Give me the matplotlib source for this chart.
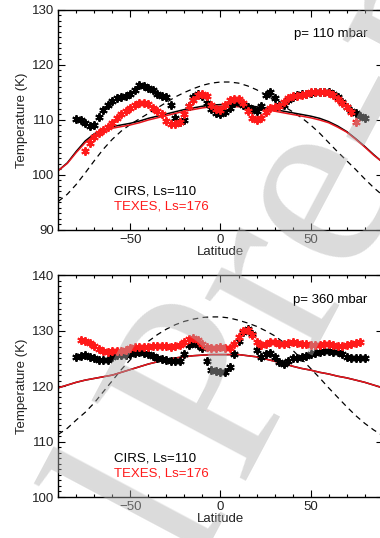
import numpy as np
import matplotlib
matplotlib.use("Agg")
import matplotlib.pyplot as plt
from matplotlib.ticker import MultipleLocator

plt.rcParams["font.family"] = ["Liberation Sans", "DejaVu Sans"]

# ---------------- data ----------------
# model curves (lat step 5)
model_lat = [-90, -85, -80, -75, -70, -65, -60, -55, -50, -45, -40, -35, -30, -25, -20, -15, -10, -5, 0,
             5, 10, 15, 20, 25, 30, 35, 40, 45, 50, 55, 60, 65, 70, 75, 80, 85, 90]

# p = 110 mbar
model110_cirs = [100.8, 102.2, 104.3, 106.2, 107.5, 108.3, 108.8, 109.1, 109.4, 109.8, 110.3, 110.7, 111.1,
                 111.5, 111.9, 112.2, 112.5, 112.7, 112.8, 112.8, 112.7, 112.6, 112.4, 112.2, 111.9, 111.6,
                 111.3, 111.0, 110.7, 110.3, 109.7, 108.9, 107.9, 106.6, 105.2, 103.7, 102.3]
model110_texes = [100.8, 102.1, 104.1, 105.9, 107.2, 108.0, 108.5, 108.8, 109.1, 109.5, 110.0, 110.4, 110.8,
                  111.2, 111.6, 111.9, 112.2, 112.4, 112.5, 112.5, 112.4, 112.3, 112.1, 111.9, 111.6, 111.3,
                  111.0, 110.7, 110.4, 110.0, 109.5, 108.7, 107.8, 106.5, 105.1, 103.6, 102.3]
dashed110 = [95.2, 96.5, 98.3, 100.4, 102.6, 104.7, 106.5, 108.0, 109.2, 110.2, 111.2, 112.2, 113.2, 114.2,
             115.0, 115.7, 116.3, 116.7, 116.9, 116.9, 116.7, 116.2, 115.5, 114.6, 113.6, 112.5, 111.5,
             110.4, 109.1, 107.6, 105.9, 104.2, 102.6, 101.0, 99.3, 97.7, 96.3]

# p = 360 mbar
model360 = [119.7, 120.2, 120.7, 121.1, 121.4, 121.7, 122.0, 122.5, 123.0, 123.5, 124.0, 124.4, 124.8,
            125.1, 125.3, 125.5, 125.6, 125.7, 125.7, 125.7, 125.7, 125.5, 125.3, 124.9, 124.5, 124.1,
            123.6, 123.2, 122.9, 122.5, 122.2, 121.8, 121.5, 121.1, 120.7, 120.2, 119.7]
dashed360 = [111.3, 112.4, 113.9, 115.3, 117.0, 119.0, 121.0, 123.0, 124.8, 126.5, 128.1, 129.3, 130.3,
             131.1, 131.7, 132.1, 132.4, 132.5, 132.5, 132.3, 131.9, 131.4, 130.8, 130.0, 129.1, 127.9,
             126.5, 124.9, 123.2, 121.5, 119.7, 118.0, 116.3, 114.7, 113.3, 112.1, 111.1]

# retrieved temperatures (stars)
cirs_lat = [-80, -77.5, -75, -72.5, -70, -67.5, -65, -62.5, -60, -57.5, -55, -52.5, -50, -47.5, -45,
            -42.5, -40, -37.5, -35, -32.5, -30, -27.5, -25, -22.5, -20, -17.5, -15, -12.5, -10, -7.5,
            -5, -2.5, 0, 2.5, 5, 7.5, 10, 12.5, 15, 17.5, 20, 22.5, 25, 27.5, 30, 32.5, 35, 37.5, 40,
            42.5, 45, 47.5, 50, 52.5, 55, 57.5, 60, 62.5, 65, 67.5, 70, 72.5, 75, 77.5, 80]
cirs110 = [110.2, 110.0, 109.4, 108.9, 109.0, 110.5, 111.8, 112.8, 113.5, 114.0, 114.2, 114.4, 114.7,
           115.4, 116.3, 116.2, 115.9, 115.4, 114.8, 114.4, 114.2, 112.8, 110.4, 109.6, 110.0, 112.5,
           114.2, 114.8, 114.3, 113.0, 112.0, 111.3, 111.0, 111.5, 112.2, 113.0, 113.2, 112.8, 112.4,
           112.0, 111.6, 112.5, 114.5, 115.0, 114.0, 112.8, 112.8, 113.6, 114.2, 114.6, 114.7, 114.8,
           114.9, 115.0, 115.0, 115.1, 115.0, 114.8, 114.2, 113.2, 112.4, 111.7, 111.3, 110.8, 110.3]
cirs360 = [125.3, 125.5, 125.6, 125.3, 125.0, 124.8, 124.8, 124.8, 125.3, 125.6, 125.7, 125.7, 125.8,
           126.0, 126.1, 126.0, 125.8, 125.5, 125.1, 124.9, 124.7, 124.5, 124.5, 124.6, 125.8, 127.5,
           127.8, 127.5, 126.8, 124.5, 123.0, 122.7, 122.6, 122.5, 123.4, 125.8, 128.2, 129.8, 130.3,
           129.5, 126.6, 125.3, 125.8, 126.0, 125.2, 124.4, 124.0, 124.6, 125.0, 125.1, 125.2, 125.4,
           125.8, 126.0, 126.2, 126.3, 126.4, 126.2, 126.1, 125.8, 125.3, 125.0, 125.0, 125.0, 125.1]

texes110_lat = [-75, -72.5, -70, -67.5, -65, -62.5, -60, -57.5, -55, -52.5, -50, -47.5, -45, -42.5, -40,
                -37.5, -35, -32.5, -30, -27.5, -25, -22.5, -20, -17.5, -15, -12.5, -10, -7.5, -5, -2.5,
                0, 2.5, 5, 7.5, 10, 12.5, 15, 17.5, 20, 22.5, 25, 27.5, 30, 32.5, 35, 37.5, 40, 42.5,
                45, 47.5, 50, 52.5, 55, 57.5, 60, 62.5, 65, 67.5, 70, 72.5, 75]
texes110 = [104.3, 105.8, 106.9, 107.6, 108.1, 108.7, 109.5, 110.3, 111.0, 111.7, 112.2, 112.7, 113.0,
            113.1, 112.9, 112.2, 111.7, 111.0, 109.8, 109.3, 109.2, 109.7, 111.0, 112.5, 113.7, 114.6,
            114.8, 114.3, 112.8, 112.0, 111.8, 112.8, 113.6, 113.9, 113.8, 113.0, 111.6, 110.4, 110.0,
            110.3, 111.4, 112.2, 112.4, 112.6, 113.2, 114.0, 114.3, 114.4, 114.6, 114.8, 115.0, 115.1,
            115.1, 115.0, 114.9, 114.6, 113.8, 113.0, 112.3, 111.5, 109.6]

texes360_lat = [-77.5, -75, -72.5, -70, -67.5, -65, -62.5, -60, -57.5, -55, -52.5, -50, -47.5, -45,
                -42.5, -40, -37.5, -35, -32.5, -30, -27.5, -25, -22.5, -20, -17.5, -15, -12.5, -10,
                -7.5, -5, -2.5, 0, 2.5, 5, 7.5, 10, 12.5, 15, 17.5, 20, 22.5, 25, 27.5, 30, 32.5, 35,
                37.5, 40, 42.5, 45, 47.5, 50, 52.5, 55, 57.5, 60, 62.5, 65, 67.5, 70, 72.5, 75, 77.5]
texes360 = [128.3, 128.2, 127.8, 127.2, 126.7, 126.3, 126.2, 126.3, 126.3, 126.4, 126.6, 126.8, 127.0,
            127.0, 127.1, 127.1, 127.2, 127.3, 127.3, 127.2, 127.0, 127.2, 127.5, 128.0, 128.6, 128.7,
            128.4, 127.7, 127.1, 126.9, 126.9, 127.0, 126.9, 126.9, 127.6, 128.8, 129.9, 130.1, 129.3,
            128.0, 127.5, 127.6, 128.0, 128.0, 127.7, 127.6, 127.8, 127.9, 127.8, 127.7, 127.6, 127.5,
            127.5, 127.5, 127.6, 127.6, 127.5, 127.3, 127.3, 127.5, 127.6, 127.8, 127.9]

panels = [
    dict(label="p= 110 mbar", ylim=(90, 130), cirs=cirs110, texes_lat=texes110_lat, texes=texes110,
         m_cirs=model110_cirs, m_texes=model110_texes, dashed=dashed110),
    dict(label="p= 360 mbar", ylim=(100, 140), cirs=cirs360, texes_lat=texes360_lat, texes=texes360,
         m_cirs=model360, m_texes=model360, dashed=dashed360),
]

# ---------------- figure ----------------
fig = plt.figure(figsize=(3.8, 5.38), dpi=100)
positions = [[0.1534, 0.5725, 0.8537, 0.409], [0.1534, 0.0762, 0.8537, 0.412]]

star = (6, 2, 0)
for pos, p in zip(positions, panels):
    ax = fig.add_axes(pos)
    ax.plot(model_lat, p["dashed"], color="black", lw=0.9, dashes=(4.5, 3.5))
    ax.plot(model_lat, p["m_cirs"], color="black", lw=1.1)
    ax.plot(model_lat, p["m_texes"], color="#e8141c", lw=1.1)
    ax.plot(cirs_lat, p["cirs"], ls="none", marker=star, ms=6, mew=1.4, color="black")
    ax.plot(p["texes_lat"], p["texes"], ls="none", marker=star, ms=6, mew=1.4, color="#ff1a1a")

    ax.set_xlim(-90, 90)
    ax.set_ylim(*p["ylim"])
    ax.xaxis.set_major_locator(MultipleLocator(50))
    ax.xaxis.set_minor_locator(MultipleLocator(10))
    ax.yaxis.set_major_locator(MultipleLocator(10))
    ax.yaxis.set_minor_locator(MultipleLocator(1))
    ax.tick_params(which="both", direction="in", top=True, right=True, labelsize=9.5,
                   labelcolor="#222222", width=0.8)
    ax.tick_params(which="major", length=5, pad=3)
    ax.tick_params(which="minor", length=2.5)
    for s in ax.spines.values():
        s.set_linewidth(1.0)
    ax.set_xlabel("Latitude", fontsize=9.5, labelpad=0, color="#222222")
    ax.set_ylabel("Temperature (K)", fontsize=9.5, labelpad=3, color="#222222")

    y0, y1 = p["ylim"]
    ax.text(81.5, y1 - 0.11 * (y1 - y0), p["label"], ha="right", va="center", fontsize=9.5)
    ax.text(-59.3, y0 + 0.175 * (y1 - y0), "CIRS, Ls=110", ha="left", va="center", fontsize=9.5)
    ax.text(-59.3, y0 + 0.105 * (y1 - y0), "TEXES, Ls=176", ha="left", va="center", fontsize=9.5,
            color="#ff1a1a")

# "Journal Pre-proof" watermark, drawn over the plots
wm = dict(rotation=62, rotation_mode="anchor", va="baseline", fontsize=190,
          family="Liberation Serif", color="#b0b0b0", alpha=0.45, zorder=10)
fig.text(0.626, 0.104, "Pre-proof", ha="left", **wm)
fig.text(0.597, 0.063, "Journal", ha="right", **wm)

fig.savefig("out.png", dpi=100)
